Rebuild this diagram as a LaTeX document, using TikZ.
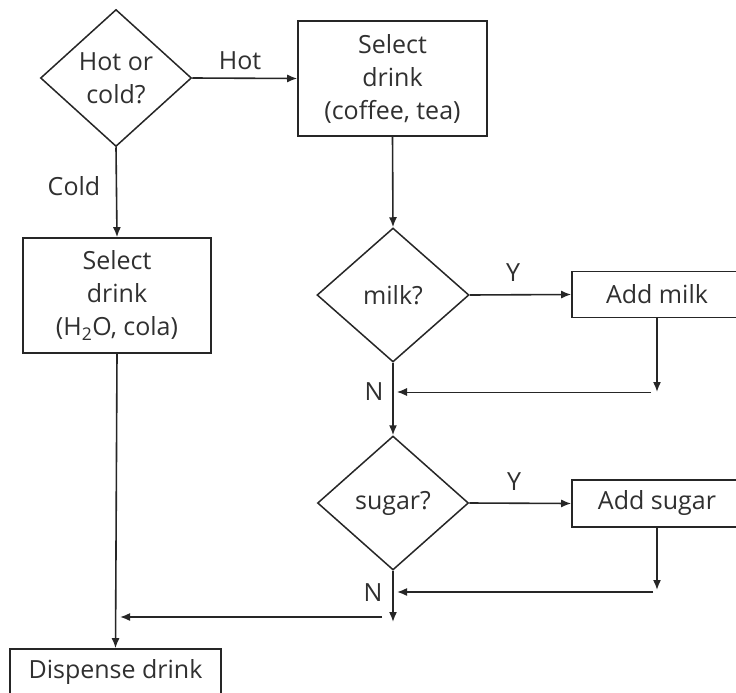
\documentclass[tikz,border=0pt]{standalone}
\usepackage{fontspec}
\setmainfont{Open Sans}
\usetikzlibrary{shapes.geometric,arrows.meta}
\definecolor{ink}{HTML}{262626}
\definecolor{txt}{HTML}{303030}
\tikzset{
  flowbox/.style={draw=ink, line width=1.6pt, rectangle, inner sep=0pt,
    align=center, text=txt, font=\fontsize{25}{33}\selectfont},
  decide/.style={draw=ink, line width=1.5pt, diamond, inner sep=0pt,
    align=center, text=txt, font=\fontsize{25}{33}\selectfont},
  lbl/.style={text=txt, font=\fontsize{25}{30}\selectfont, inner sep=0pt},
  flow/.style={draw=ink, line width=1.6pt, -{Latex[length=10pt,width=8pt]}},
}
\begin{document}
\begin{tikzpicture}[x=1pt,y=-1pt]
\fill[white] (0,0) rectangle (736,693);
\useasboundingbox (0,0) rectangle (736,693);
\clip (0,0) rectangle (736,693);

% decisions
\node[decide, minimum width=151pt, minimum height=137pt] (hc) at (116,78) {Hot or\\cold?};
\node[decide, minimum width=152pt, minimum height=134pt] (milk) at (393,295) {milk?};
\node[decide, minimum width=151pt, minimum height=134pt] (sugar) at (393,503) {sugar?};

% process boxes
\node[flowbox, minimum width=189pt, minimum height=115pt] (hot) at (392.5,78.5) {Select\\drink\\(coffee, tea)};
\node[flowbox, minimum width=188pt, minimum height=115pt] (cold) at (117,295.5) {Select\\drink\\(H\textsubscript{2}O, cola)};
\node[flowbox, minimum width=170pt, minimum height=46pt] (addmilk) at (657,294.5) {Add milk};
\node[flowbox, minimum width=170pt, minimum height=47pt] (addsugar) at (657,503.5) {Add sugar};
\node[flowbox, minimum width=211pt, minimum height=46pt] (disp) at (115.5,672) {Dispense drink};

% junction points
\coordinate (mdrop) at (657,392);
\coordinate (mfrom) at (651,392);
\coordinate (mto) at (397,392);
\coordinate (sdrop) at (657,590);
\coordinate (sfrom) at (653,592);
\coordinate (sto) at (397,592);
\coordinate (send) at (393,622);
\coordinate (jfrom) at (382,617);
\coordinate (jto) at (120,617);

% connectors
\draw[flow] (hc.east) -- (hot.west);
\draw[flow] (hc.south) -- (cold.north);
\draw[flow] (hot.south) -- (milk.north);
\draw[flow] (milk.east) -- (addmilk.west);
\draw[flow] (addmilk.south) -- (mdrop);
\draw[flow, line width=1pt] (mfrom) -- (mto);
\draw[flow] (milk.south) -- (sugar.north);
\draw[flow] (sugar.east) -- (addsugar.west);
\draw[flow] (addsugar.south) -- (sdrop);
\draw[flow] (sfrom) -- (sto);
\draw[flow] (sugar.south) -- (send);
\draw[flow] (jfrom) -- (jto);
\draw[flow] (cold.south) -- (disp.north);

% branch labels
\node[lbl] at (240,61) {Hot};
\node[lbl] at (74,186) {Cold};
\node[lbl] at (513,273) {Y};
\node[lbl] at (374,392) {N};
\node[lbl] at (514,482) {Y};
\node[lbl] at (373,593) {N};
\end{tikzpicture}
\end{document}
